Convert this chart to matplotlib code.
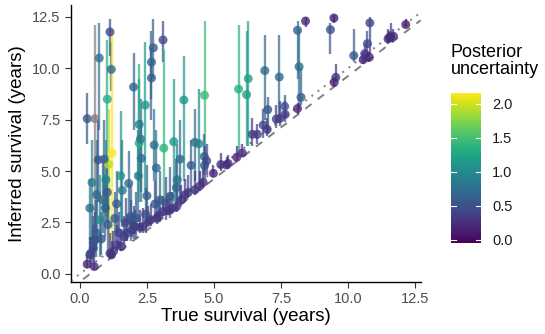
import numpy as np
import matplotlib
matplotlib.use("Agg")
import matplotlib.pyplot as plt
from matplotlib.colors import Normalize
import matplotlib.cm as cm

plt.rcParams['font.family'] = ['Liberation Sans', 'DejaVu Sans']

# ---- data ----
# scattered / high-uncertainty points
true_surv = [0.27, 0.56, 0.72, 1.12, 1.17, 1.02, 1.20, 1.07, 0.68, 0.90, 1.02, 0.62, 0.37, 0.45,
             1.37, 1.52, 1.58, 1.82, 2.00, 2.44, 2.21, 2.21, 2.26, 2.29, 2.18, 2.67, 2.74, 2.67,
             3.10, 2.77, 2.85, 3.13, 3.50, 3.88, 3.74, 4.15, 4.29, 4.44, 4.65, 4.64, 4.65, 4.73,
             5.92, 6.28, 6.22, 6.43, 6.62, 6.84, 6.99, 7.01, 6.90, 7.44, 7.33, 7.46, 7.66, 7.64,
             8.12, 8.18, 8.25, 8.12, 8.42, 9.35, 9.48, 9.55, 9.49, 10.22, 10.57, 10.63, 10.73,
             10.82, 10.80, 11.50, 11.60, 11.70, 11.55, 12.16,
             4.98, 5.26, 5.53, 5.47, 5.85, 6.06,
             # low diagonal cluster
             0.27, 0.53, 0.37, 0.50, 0.56, 1.12, 1.18, 1.25, 1.37, 1.55, 1.65, 1.74, 1.93, 2.05,
             2.24, 2.35, 2.55, 2.64, 2.86, 2.95, 3.11, 3.30, 3.42, 3.61, 3.79, 3.92, 4.04, 4.29,
             4.48, 4.60,
             1.70, 1.90, 2.00, 1.45, 2.45, 3.20,
             # blue cluster low-left
             0.50, 0.60, 0.75, 0.85, 0.95, 0.97, 1.05, 1.89, 2.11, 2.99, 3.36, 3.63, 3.60, 1.30,
             2.50, 2.80, 0.40, 0.80]
inferred = [7.55, 7.55, 10.50, 11.77, 9.95, 8.50, 5.88, 5.33, 5.55, 5.58, 3.97, 3.85, 3.20, 4.45,
            3.41, 4.77, 4.06, 4.40, 9.09, 8.21, 7.27, 6.36, 6.56, 5.62, 4.77, 10.30, 11.00, 9.53,
            11.38, 6.27, 5.15, 6.12, 6.43, 8.46, 5.58, 5.28, 6.40, 6.33, 8.69, 5.71, 5.28, 5.50,
            8.99, 9.50, 8.72, 6.79, 6.79, 7.24, 7.03, 7.99, 9.89, 9.58, 7.53, 7.56, 7.76, 8.15,
            11.85, 10.08, 8.59, 8.04, 12.30, 11.88, 12.45, 9.56, 9.32, 10.62, 10.42, 10.71, 11.20,
            12.21, 10.54, 11.43, 11.56, 11.56, 11.50, 12.13,
            4.89, 5.32, 5.37, 5.30, 5.67, 5.88,
            0.47, 0.36, 0.93, 1.25, 1.66, 1.00, 0.93, 1.10, 1.41, 1.33, 1.80, 1.98, 2.14, 2.30,
            2.26, 2.30, 2.55, 2.63, 2.71, 2.85, 3.04, 3.07, 3.17, 3.28, 3.60, 3.85, 3.96, 4.09,
            4.29, 4.45,
            2.50, 2.60, 2.30, 2.00, 2.90, 3.45,
            1.50, 2.00, 2.63, 3.60, 3.20, 4.58, 2.40, 2.79, 2.71, 3.60, 3.77, 4.58, 4.20, 2.70,
            3.80, 3.40, 1.00, 1.70]
lower = [6.30, 2.00, 7.00, 10.60, 8.90, 3.00, 1.20, 2.00, 3.50, 3.80, 2.50, 1.50, 1.65, 1.65,
         2.00, 2.50, 2.30, 2.50, 7.00, 4.00, 4.50, 3.50, 4.00, 3.50, 2.50, 8.50, 9.50, 7.50,
         10.30, 4.50, 3.50, 3.50, 3.50, 4.50, 3.50, 4.00, 4.50, 4.50, 5.00, 4.80, 4.60, 4.80,
         6.00, 6.20, 6.20, 6.20, 6.30, 6.60, 6.70, 6.80, 7.50, 7.70, 7.10, 7.20, 7.40, 7.60,
         9.50, 8.00, 8.20, 7.80, 12.00, 10.70, 12.20, 9.40, 9.10, 10.30, 10.20, 10.30, 10.40,
         10.70, 10.30, 11.20, 11.30, 11.30, 11.30, 12.00,
         4.70, 5.00, 5.10, 5.10, 5.50, 5.70,
         0.30, 0.20, 0.60, 0.80, 1.20, 0.70, 0.70, 0.80, 1.10, 1.10, 1.40, 1.60, 1.80, 1.95,
         2.00, 2.00, 2.30, 2.35, 2.45, 2.55, 2.80, 2.85, 2.90, 3.05, 3.30, 3.50, 3.70, 3.85,
         4.05, 4.20,
         1.60, 1.80, 1.70, 1.30, 2.00, 2.60,
         0.60, 0.80, 0.80, 2.00, 1.80, 2.80, 1.00, 1.60, 1.70, 2.50, 2.70, 3.00, 3.00, 1.60,
         2.60, 2.50, 0.50, 0.90]
upper = [8.80, 12.10, 12.20, 12.40, 11.30, 11.40, 11.70, 8.00, 7.50, 7.50, 5.50, 6.50, 4.60, 6.50,
         5.00, 7.90, 6.50, 6.00, 10.75, 11.30, 9.50, 10.20, 8.50, 7.50, 7.00, 11.80, 12.40, 11.00,
         12.30, 8.00, 7.00, 10.90, 9.50, 10.60, 7.50, 6.50, 8.00, 9.00, 12.30, 6.80, 6.20, 6.30,
         12.10, 12.30, 11.80, 7.60, 7.30, 8.00, 7.60, 8.60, 11.60, 11.60, 8.20, 8.40, 8.40, 8.70,
         12.30, 11.90, 10.00, 8.30, 12.50, 12.20, 12.60, 10.20, 9.60, 11.90, 10.80, 11.20, 11.80,
         12.50, 10.80, 11.90, 12.20, 11.90, 11.80, 12.40,
         5.30, 5.90, 5.80, 5.70, 6.20, 6.30,
         0.90, 1.20, 1.80, 2.40, 3.00, 2.00, 1.60, 2.10, 2.40, 2.20, 2.80, 2.90, 3.00, 3.10,
         3.10, 3.20, 3.30, 3.40, 3.50, 3.70, 3.80, 3.90, 4.00, 4.10, 4.30, 4.60, 4.80, 5.00,
         5.00, 5.20,
         3.70, 3.60, 3.30, 3.00, 4.20, 4.70,
         2.80, 3.60, 4.80, 5.50, 4.80, 6.50, 3.80, 4.30, 4.00, 5.00, 5.20, 6.30, 5.60, 4.00,
         5.30, 4.50, 1.80, 3.00]
uncertainty = [0.55, np.nan, 0.75, 0.45, 0.70, 1.30, 2.15, 1.95, 0.50, 0.60, 0.55, 0.70, 0.75, 0.90,
               0.60, 1.10, 0.85, 0.65, 0.65, 1.15, 0.90, 1.35, 0.80, 0.75, 0.85, 0.65, 0.60, 0.60,
               0.45, 0.80, 0.70, 1.40, 1.15, 1.10, 0.70, 0.60, 0.70, 0.95, 1.45, 0.60, 0.50, 0.45,
               1.35, 1.20, 1.20, 0.35, 0.35, 0.45, 0.30, 0.55, 0.70, 0.70, 0.35, 0.35, 0.30, 0.50,
               0.65, 0.75, 0.60, 0.20, 0.20, 0.50, 0.15, 0.30, 0.20, 0.55, 0.20, 0.30, 0.45,
               0.40, 0.20, 0.30, 0.30, 0.25, 0.20, 0.15,
               0.20, 0.25, 0.25, 0.25, 0.20, 0.25,
               0.20, 0.25, 0.30, 0.35, 0.40, 0.30, 0.25, 0.30, 0.30, 0.30, 0.35, 0.35, 0.35, 0.30,
               0.30, 0.30, 0.30, 0.30, 0.30, 0.30, 0.30, 0.30, 0.30, 0.30, 0.25, 0.30, 0.30, 0.30,
               0.25, 0.25,
               0.45, 0.45, 0.40, 0.40, 0.50, 0.45,
               0.55, 0.60, 1.00, 0.70, 0.60, 0.95, 0.60, 0.60, 0.55, 0.60, 0.55, 0.80, 0.60, 0.60,
               0.60, 0.55, 0.45, 0.55]

ref_slope, ref_intercept = 1.0, 0.0          # dotted identity line
offset_slope, offset_intercept = 1.0, -0.38   # dashed line

x_ticks = [0.0, 2.5, 5.0, 7.5, 10.0, 12.5]
y_ticks = [0.0, 2.5, 5.0, 7.5, 10.0, 12.5]
cbar_ticks = [0.0, 0.5, 1.0, 1.5, 2.0]

# ---- plot ----
x = np.array(true_surv); y = np.array(inferred)
lo = np.array(lower); hi = np.array(upper); u = np.array(uncertainty)

fig = plt.figure(figsize=(5.45, 3.34), dpi=100)
ax = fig.add_axes([0.130, 0.156, 0.642, 0.829])
norm = Normalize(vmin=-0.05, vmax=2.16)
cmap = cm.viridis
na_col = (0.5, 0.5, 0.5)
cols = [cmap(norm(v)) if not np.isnan(v) else na_col for v in u]

xl = np.array([-0.34, 12.72])
ax.plot(xl, ref_slope * xl + ref_intercept, color="#7f7f7f", lw=1.4, ls=(0, (1, 3)), zorder=1)
ax.plot(xl, offset_slope * xl + offset_intercept, color="#7f7f7f", lw=1.4, ls=(0, (4, 4)), zorder=1)

ax.vlines(x, lo, hi, colors=cols, lw=1.7, alpha=0.7, zorder=2)
ax.scatter(x, y, c=cols, s=42, alpha=0.8, linewidths=0, zorder=3)

ax.set_xlim(-0.34, 12.72)
ax.set_ylim(-0.39, 13.08)
ax.set_xticks(x_ticks)
ax.set_yticks(y_ticks)
ax.set_xticklabels([f"{t:.1f}" for t in x_ticks])
ax.set_yticklabels([f"{t:.1f}" for t in y_ticks])
for s in ["top", "right"]:
    ax.spines[s].set_visible(False)
for s in ["left", "bottom"]:
    ax.spines[s].set_linewidth(1.0)
ax.tick_params(axis="both", colors="#333333", labelcolor="#4d4d4d", labelsize=10.5, length=4, width=0.8)
ax.set_xlabel("True survival (years)", fontsize=13.5, labelpad=1)
ax.set_ylabel("Inferred survival (years)", fontsize=13.5, labelpad=4)

# colour bar
cax = fig.add_axes([451 / 545, 1 - 243 / 334, 30 / 545, (243 - 92.7) / 334])
cb = fig.colorbar(cm.ScalarMappable(norm=norm, cmap=cmap), cax=cax)
cb.outline.set_visible(False)
cb.set_ticks(cbar_ticks)
cb.set_ticklabels([f"{t:.1f}" for t in cbar_ticks])
cax.tick_params(length=0, labelsize=10.5, labelcolor="#1a1a1a", pad=8)
for t in cbar_ticks:
    cax.plot([0, 0.18], [t, t], color="white", lw=0.8, transform=cax.get_yaxis_transform())
    cax.plot([0.82, 1.0], [t, t], color="white", lw=0.8, transform=cax.get_yaxis_transform())
fig.text(451 / 545, 1 - 44 / 334, "Posterior\nuncertainty", fontsize=13, va="top", ha="left",
         linespacing=1.0)

fig.savefig("out.png", dpi=100)
